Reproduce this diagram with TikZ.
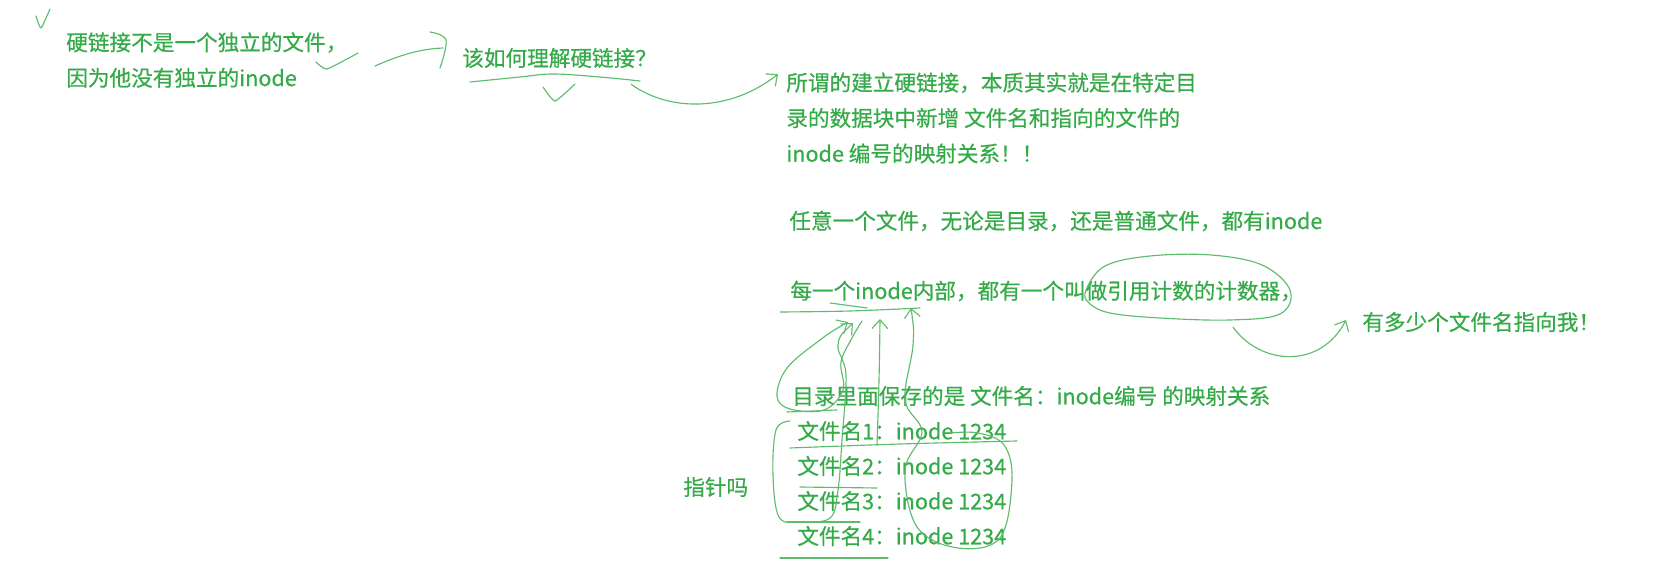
\documentclass[tikz,border=0pt]{standalone}
\usepackage{fontspec}
\usepackage{tikz}
\usetikzlibrary{positioning,arrows.meta}
\newfontfamily\notecjk[FakeBold=0.5]{Noto Sans CJK SC}
\definecolor{NoteGreen}{HTML}{34AA48}
\definecolor{PenGreen}{HTML}{5DBD6C}

\tikzset{
  note/.style={text=NoteGreen,font=\notecjk\fontsize{12.3}{20.2}\selectfont,inner sep=0pt,anchor=west,align=left},
  pen/.style={PenGreen,line width=0.65pt,line cap=round,line join=round},
  pen tip/.style={pen,-{Straight Barb[length=5pt,width=9pt]}},
  pen tail/.style={pen,{Straight Barb[length=5pt,width=9pt]}-}
}

\begin{document}
\begin{tikzpicture}[x=0.02cm,y=-0.02cm]
\useasboundingbox (0,0) rectangle (1666,577);

% texts
\node[note] (why) at (66,60) {硬链接不是一个独立的文件，\\因为他没有独立的inode};
\node[note] (ask) at (462,58) {该如何理解硬链接？};
\node[note] (para) at (786,118) {所谓的建立硬链接，本质其实就是在特定目\\录的数据块中新增 文件名和指向的文件的\\inode 编号的映射关系！！};
\node[note] (any) at (789,221) {任意一个文件，无论是目录，还是普通文件，都有inode};
\node[note] (cnt) at (790,291) {每一个inode内部，都有一个叫做引用计数的计数器，};
\node[note] (many) at (1362,322) {有多少个文件名指向我！};
\node[note] (dir) at (792,396) {目录里面保存的是 文件名：inode编号 的映射关系};
\foreach \i/\y in {1/431,2/466,3/501,4/536} {
  \node[note] (f\i) at (797,\y) {文件名\i：inode 1234};
}
\node[note] (ptr) at (683,487) {指针吗};

% ticks and marks
\draw[pen] plot[smooth,tension=0.3] coordinates {(36,16) (41,28) (50,9)};
\draw[pen] plot[smooth,tension=0.3] coordinates {(316,62) (327,69) (358,53)};
\draw[pen] plot[smooth,tension=0.3] coordinates {(543,87) (555,101) (575,84)};

% why -> ask
\coordinate (w1) at (375,66);
\draw[pen] (w1) .. controls (400,55) and (420,49) .. ([shift={(-19,-10)}]ask.west);
\draw[pen] plot[smooth,tension=0.6] coordinates {(430,32) (446,40) (440,68)};
\draw[pen] plot[smooth,tension=0.6] coordinates {(470,82) (520,77) (553,74) (600,77) (640,81)};

% ask -> para
\draw[pen tip] ([shift={(-26,16)}]ask.south east) .. controls (670,112) and (730,112) .. ([shift={(-8,2)}]para.north west);

% counter ring -> many
\draw[pen] plot[smooth cycle,tension=0.6] coordinates {(1086,290) (1105,266) (1150,256) (1211,255) (1262,265) (1290,290) (1280,314) (1230,320) (1160,318) (1110,313) (1089,303)};
\coordinate (ring) at (1233,327);
\draw[pen tip] (ring) .. controls (1260,365) and (1320,370) .. ([shift={(-16,-2)}]many.west);

% under cnt
\draw[pen] plot[smooth,tension=0.6] coordinates {(780,312) (850,311) (920,308)};
\draw[pen] (830,303) -- (867,308);

% strokes from the list up to cnt
\draw[pen tip,{Straight Barb[length=5pt,width=9pt]}-] plot[smooth,tension=0.6] coordinates {(848,322) (820,340) (787,368) (777,396) (790,409) (824,410) (843,390) (841,362) (852,338) (862,321)};
\draw[pen tail] plot[smooth,tension=0.6] coordinates {(853,323) (838,345) (846,375) (842,440) (838,490) (830,518) (800,522) (779,517) (773,475) (776,430) (790,421)};
\draw[pen tail] plot[smooth,tension=0.6] coordinates {(880,319) (879,380) (877,445)};
\draw[pen tail] plot[smooth,tension=0.6] coordinates {(911,308) (913,345) (905,400) (922,432) (905,470) (917,527) (958,548) (1000,538) (1012,480) (1004,445) (978,433) (950,433)};

% underlines in the list
\draw[pen] (787,412) -- (837,410);
\draw[pen] plot[smooth,tension=0.6] coordinates {(790,448) (900,444) (1017,441)};
\draw[pen] (800,487) -- (877,488);
\draw[pen] (787,522) -- (860,522);
\draw[pen] (780,558) -- (888,558);
\end{tikzpicture}
\end{document}
